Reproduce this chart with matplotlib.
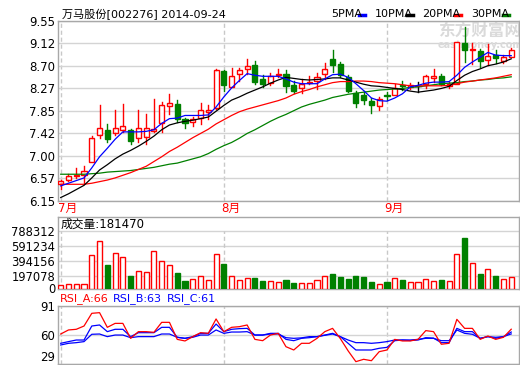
import matplotlib
matplotlib.use("Agg")
import matplotlib.pyplot as plt
from matplotlib.patches import Rectangle
from matplotlib.lines import Line2D

plt.rcParams['font.family'] = ['DejaVu Sans', 'Noto Sans CJK SC']

# 万马股份 002276, 2014-07-03 .. 2014-09-24
open_ = [6.46, 6.55, 6.62, 6.63, 6.89, 7.39, 7.48, 7.43, 7.48, 7.48,
         7.33, 7.35, 7.47, 7.61, 7.94, 7.97, 7.69, 7.64, 7.72, 7.82,
         7.90, 8.60, 8.30, 8.54, 8.63, 8.72, 8.44, 8.37, 8.52, 8.55,
         8.33, 8.28, 8.38, 8.41, 8.54, 8.82, 8.73, 8.48, 8.19, 8.14,
         8.04, 7.94, 8.14, 8.15, 8.34, 8.30, 8.32, 8.35, 8.46, 8.50,
         8.32, 8.36, 9.13, 8.99, 8.97, 8.80, 8.90, 8.78, 8.87]
high = [6.55, 6.66, 6.76, 6.80, 7.37, 7.96, 7.60, 7.86, 7.97, 7.50,
        7.86, 7.79, 8.08, 8.01, 8.17, 8.06, 7.71, 7.73, 7.99, 7.95,
        8.63, 8.62, 8.66, 8.65, 8.83, 8.78, 8.52, 8.57, 8.63, 8.61,
        8.42, 8.45, 8.51, 8.57, 8.75, 9.00, 8.77, 8.52, 8.23, 8.23,
        8.09, 8.11, 8.21, 8.36, 8.42, 8.37, 8.39, 8.52, 8.63, 8.55,
        8.39, 9.15, 9.44, 9.12, 9.02, 9.11, 9.00, 8.90, 9.04]
low = [6.37, 6.52, 6.57, 6.49, 6.88, 7.33, 7.26, 7.39, 7.45, 7.23,
       7.26, 7.23, 7.44, 7.45, 7.78, 7.64, 7.52, 7.56, 7.59, 7.70,
       7.88, 8.23, 8.29, 8.42, 8.54, 8.36, 8.30, 8.33, 8.48, 8.20,
       8.18, 8.19, 8.35, 8.26, 8.45, 8.59, 8.48, 8.20, 7.92, 7.98,
       7.81, 7.86, 8.06, 8.14, 8.25, 8.26, 8.21, 8.28, 8.39, 8.33,
       8.27, 8.35, 8.77, 8.73, 8.68, 8.72, 8.75, 8.76, 8.86]
close = [6.52, 6.62, 6.63, 6.72, 7.34, 7.53, 7.31, 7.53, 7.56, 7.28,
         7.52, 7.53, 7.51, 7.95, 7.99, 7.70, 7.62, 7.69, 7.87, 7.87,
         8.62, 8.34, 8.51, 8.61, 8.69, 8.39, 8.35, 8.50, 8.55, 8.31,
         8.23, 8.36, 8.39, 8.48, 8.64, 8.72, 8.52, 8.23, 8.00, 8.05,
         7.95, 8.08, 8.13, 8.28, 8.31, 8.33, 8.32, 8.51, 8.50, 8.36,
         8.36, 9.15, 8.99, 9.01, 8.78, 8.89, 8.84, 8.87, 9.00]

ma5 = [6.43, 6.48, 6.53, 6.58, 6.77, 6.98, 7.14, 7.31, 7.45, 7.45,
       7.45, 7.46, 7.49, 7.61, 7.70, 7.71, 7.76, 7.76, 7.76, 7.77,
       7.92, 8.11, 8.28, 8.42, 8.55, 8.52, 8.50, 8.50, 8.50, 8.45,
       8.39, 8.36, 8.36, 8.36, 8.45, 8.53, 8.54, 8.48, 8.36, 8.23,
       8.09, 8.04, 8.03, 8.09, 8.17, 8.30, 8.33, 8.37, 8.39, 8.39,
       8.40, 8.52, 8.67, 8.77, 8.86, 8.95, 8.90, 8.89, 8.89]
ma10 = [6.21, 6.28, 6.36, 6.44, 6.58, 6.73, 6.83, 6.94, 7.03, 7.10,
        7.18, 7.27, 7.37, 7.49, 7.58, 7.62, 7.65, 7.67, 7.70, 7.73,
        7.84, 7.95, 8.05, 8.11, 8.18, 8.24, 8.30, 8.37, 8.43, 8.48,
        8.46, 8.44, 8.43, 8.44, 8.45, 8.47, 8.47, 8.43, 8.39, 8.35,
        8.32, 8.31, 8.29, 8.27, 8.25, 8.22, 8.20, 8.22, 8.24, 8.27,
        8.31, 8.42, 8.52, 8.59, 8.64, 8.70, 8.73, 8.77, 8.83]
ma20 = [6.46, 6.46, 6.46, 6.46, 6.48, 6.51, 6.54, 6.58, 6.63, 6.68,
        6.74, 6.80, 6.89, 6.98, 7.08, 7.16, 7.25, 7.34, 7.42, 7.50,
        7.60, 7.68, 7.76, 7.83, 7.88, 7.92, 7.96, 8.00, 8.04, 8.09,
        8.16, 8.21, 8.25, 8.30, 8.34, 8.38, 8.40, 8.40, 8.41, 8.41,
        8.40, 8.38, 8.37, 8.36, 8.34, 8.32, 8.32, 8.32, 8.32, 8.32,
        8.33, 8.36, 8.39, 8.41, 8.43, 8.45, 8.47, 8.50, 8.53]
ma30 = [6.65, 6.65, 6.65, 6.65, 6.66, 6.67, 6.69, 6.70, 6.71, 6.72,
        6.74, 6.76, 6.78, 6.81, 6.84, 6.86, 6.90, 6.94, 6.98, 7.04,
        7.12, 7.19, 7.25, 7.33, 7.42, 7.49, 7.57, 7.65, 7.72, 7.78,
        7.85, 7.92, 7.97, 8.01, 8.05, 8.10, 8.13, 8.16, 8.18, 8.20,
        8.22, 8.24, 8.25, 8.26, 8.27, 8.29, 8.30, 8.32, 8.34, 8.36,
        8.37, 8.38, 8.40, 8.41, 8.43, 8.44, 8.46, 8.47, 8.49]

volume = [83500, 96600, 96600, 96600, 475000, 657800, 344600, 497300, 445000, 201000,
          266200, 249300, 527300, 396800, 344600, 244100, 135700, 161800, 197100, 148800,
          488100, 357600, 197100, 148800, 174900, 178800, 135700, 135700, 118800, 148800,
          109600, 109600, 109600, 148800, 201000, 227100, 187900, 161800, 201000, 191900,
          126600, 96600, 122700, 174900, 148800, 118800, 118800, 161800, 135700, 148800,
          135700, 488100, 696900, 370700, 227100, 292400, 201000, 161800, 181470]

rsi_a = [60.9, 65.2, 65.9, 69.4, 82.9, 83.6, 68.0, 72.2, 72.2, 56.3,
         63.4, 63.4, 62.7, 73.3, 73.3, 55.2, 53.5, 58.1, 62.3, 61.6,
         76.9, 63.4, 68.0, 68.7, 70.5, 55.2, 53.8, 59.8, 61.6, 47.4,
         43.9, 51.0, 51.0, 56.3, 63.4, 66.9, 56.0, 43.0, 31.5, 34.0,
         32.5, 42.1, 43.9, 55.2, 53.5, 53.5, 55.2, 64.5, 63.4, 50.0,
         51.0, 76.5, 66.9, 66.9, 55.2, 58.8, 55.2, 57.4, 66.0]
rsi_b = [51.0, 52.8, 54.5, 54.5, 69.4, 70.5, 63.4, 65.9, 65.9, 58.1,
         62.3, 62.3, 62.3, 68.0, 68.0, 57.4, 56.3, 58.1, 61.6, 61.6,
         71.5, 63.4, 65.9, 66.6, 66.9, 59.8, 59.8, 61.6, 61.6, 55.2,
         53.8, 56.3, 57.0, 58.1, 59.8, 61.6, 58.1, 51.0, 43.9, 43.9,
         43.9, 45.7, 46.7, 53.8, 54.5, 54.0, 54.5, 57.0, 56.5, 51.7,
         51.7, 66.9, 63.4, 63.4, 56.3, 58.1, 56.3, 58.1, 63.0]
rsi_c = [49.2, 51.0, 51.7, 52.8, 60.6, 60.9, 58.1, 59.8, 59.8, 57.0,
         58.1, 58.1, 58.1, 60.9, 60.9, 57.4, 56.3, 57.4, 59.8, 59.8,
         65.2, 61.6, 63.0, 63.0, 63.4, 59.8, 59.8, 60.9, 60.9, 57.0,
         56.3, 56.8, 58.1, 58.1, 59.5, 60.9, 58.1, 54.5, 51.7, 51.7,
         51.0, 51.7, 52.8, 54.5, 54.5, 54.5, 55.2, 56.3, 56.3, 53.8,
         53.8, 65.2, 61.6, 60.6, 56.3, 58.1, 57.4, 58.1, 61.0]

month_idx = [0, 21, 42]
month_lbl = ['7月', '8月', '9月']
price_ticks = [6.15, 6.57, 7.00, 7.42, 7.85, 8.27, 8.70, 9.12, 9.55]
vol_ticks = [197078, 394156, 591234, 788312]
rsi_ticks = [29, 60, 91]

RED = '#ff0000'
GREEN = '#008000'
BLUE = '#0000ff'
GRID = '#d4d4d4'
FRAME = '#a8a8a8'
W, H = 520, 365

fig = plt.figure(figsize=(W / 100, H / 100), dpi=100)


def px_axes(left, top, right, bottom):
    return fig.add_axes([left / W, 1 - bottom / H, (right - left) / W, (bottom - top) / H])


def style(ax, ticks, labels, size=8.5):
    ax.set_xlim(-0.35, 59.0)
    ax.set_xticks([])
    ax.set_yticks(ticks)
    ax.set_yticklabels(labels)
    ax.tick_params(axis='y', length=0, pad=2, labelsize=size, colors='black')
    for s in ax.spines.values():
        s.set_color(FRAME)
        s.set_linewidth(1)
    ax.grid(axis='y', color=GRID, lw=1)
    ax.set_axisbelow(True)


n = len(close)
bw = 0.66

# ---- price panel
ax = px_axes(58, 20.7, 519, 200.7)
ax.set_ylim(6.15, 9.55)
style(ax, price_ticks, ['%.2f' % t for t in price_ticks])
for m in month_idx:
    ax.axvline(m, color='#c8c8c8', lw=1, ls=(0, (3, 2)), zorder=0)

# watermark behind the candles
ax.text(0.915, 0.94, '东方财富网', color='#dadada', fontsize=12, fontweight='bold',
        ha='center', va='center', transform=ax.transAxes, zorder=1)
ax.text(0.915, 0.865, 'eastmoney.com', color='#dadada', fontsize=7, fontweight='bold',
        ha='center', va='center', transform=ax.transAxes, zorder=1)

for i in range(n):
    o, h, l, c = open_[i], high[i], low[i], close[i]
    if c > o:
        col = RED
        ax.add_patch(Rectangle((i - bw / 2, o), bw, c - o, fc='white', ec=col, lw=1, zorder=3))
    elif c < o:
        col = GREEN
        ax.add_patch(Rectangle((i - bw / 2, c), bw, o - c, fc=col, ec=col, lw=1, zorder=3))
    else:
        col = 'black'
        ax.plot([i - bw / 2, i + bw / 2], [c, c], color=col, lw=1, zorder=3)
    ax.plot([i, i], [max(o, c), h], color=col, lw=1, zorder=3)
    ax.plot([i, i], [l, min(o, c)], color=col, lw=1, zorder=3)

x = list(range(n))
ax.plot(x, ma30, color=GREEN, lw=0.9, zorder=4)
ax.plot(x, ma20, color=RED, lw=0.9, zorder=4)
ax.plot(x, ma10, color='black', lw=0.9, zorder=4)
ax.plot(x, ma5, color=BLUE, lw=0.9, zorder=4)

for m, lbl in zip(month_idx, month_lbl):
    ax.text(m - 0.35, 6.15 - 0.14, lbl, color=RED, fontsize=8.5, ha='left', va='center',
            clip_on=False)

# title and legend
fig.text(62 / W, 1 - 14 / H, '万马股份[002276] 2014-09-24', fontsize=8, va='center')
legend = [('5PMA', 331, 359, BLUE), ('10PMA', 375, 407, 'black'),
          ('20PMA', 422, 455, RED), ('30PMA', 471, 503, GREEN)]
for name, tx, lx, col in legend:
    fig.text(tx / W, 1 - 14 / H, name, fontsize=8, va='center')
    fig.add_artist(Line2D([lx / W, (lx + 6) / W], [1 - 15 / H, 1 - 15 / H], color=col, lw=2.5))

# ---- volume panel
vlo, vhi = 31330, 971026
zero_pos = vlo + 1 * 13051  # the "0" label sits at the bottom edge
axv = px_axes(58, 217, 519, 289)
axv.set_ylim(vlo, vhi)
style(axv, [zero_pos] + vol_ticks, ['0'] + [str(t) for t in vol_ticks], size=8.3)
axv.grid(False)
for t in vol_ticks:
    axv.axhline(t, color=GRID, lw=1, zorder=0)
for m in month_idx:
    axv.plot([m, m], [vlo, vol_ticks[-1]], color='#c8c8c8', lw=1, ls=(0, (3, 2)), zorder=0)
for i in range(n):
    if close[i] >= open_[i]:
        axv.add_patch(Rectangle((i - bw / 2, vlo), bw, volume[i] - vlo, fc='white', ec=RED, lw=1, zorder=3))
    else:
        axv.add_patch(Rectangle((i - bw / 2, vlo), bw, volume[i] - vlo, fc=GREEN, ec=GREEN, lw=1, zorder=3))
axv.text(0.0, 880000, '成交量:%d' % volume[-1], fontsize=8.5, va='center', ha='left')

# ---- RSI panel
axr = px_axes(58, 305.7, 519, 364)
axr.set_ylim(29, 91)
style(axr, rsi_ticks, [str(t) for t in rsi_ticks])
axr.get_yticklabels()[0].set_va('bottom')
for m in month_idx:
    axr.axvline(m, color='#c8c8c8', lw=1, ls=(0, (3, 2)), zorder=0)
axr.plot(x, rsi_c, color=BLUE, lw=0.9)
axr.plot(x, rsi_b, color=BLUE, lw=0.9)
axr.plot(x, rsi_a, color=RED, lw=0.9)

fig.text(60 / W, 1 - 299 / H, 'RSI_A:%d' % round(rsi_a[-1]), color=RED, fontsize=8, va='center')
fig.text(113 / W, 1 - 299 / H, 'RSI_B:%d' % round(rsi_b[-1]), color=BLUE, fontsize=8, va='center')
fig.text(167 / W, 1 - 299 / H, 'RSI_C:%d' % round(rsi_c[-1]), color=BLUE, fontsize=8, va='center')

fig.savefig('out.png', dpi=100, facecolor='white')
